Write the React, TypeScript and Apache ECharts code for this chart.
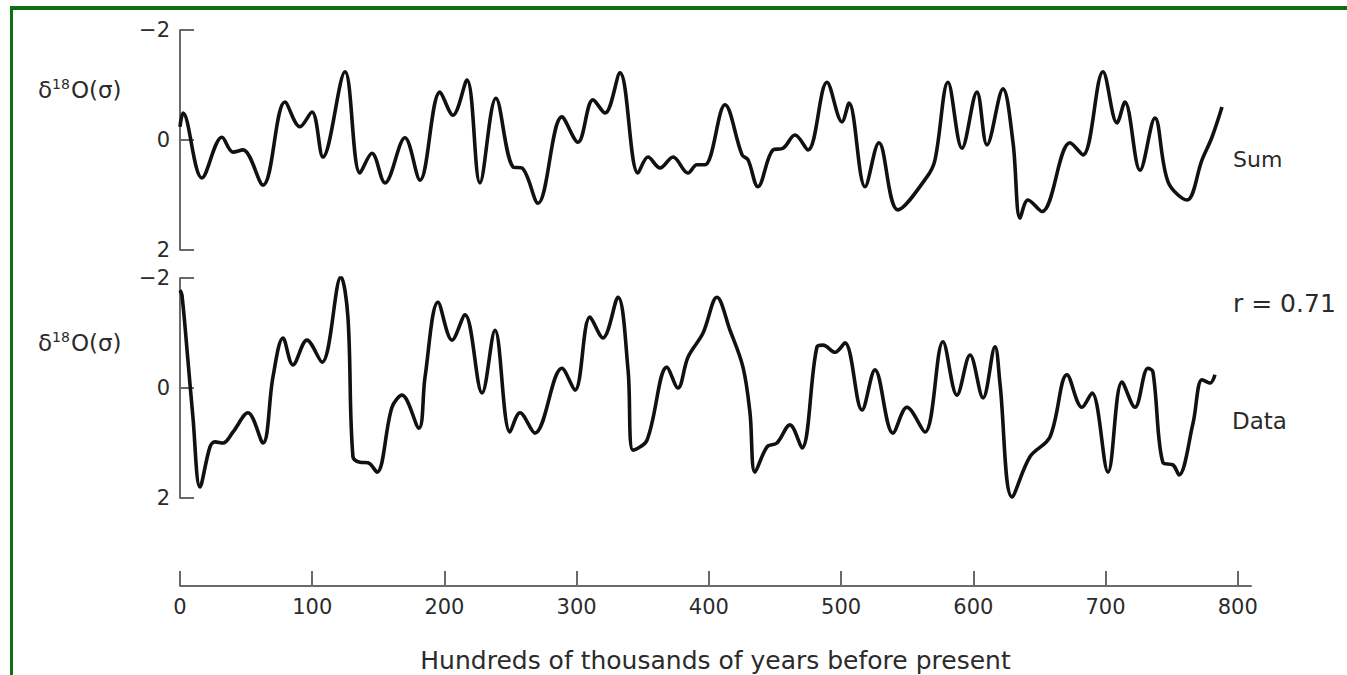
import React, { useEffect, useRef } from "react";
import * as echarts from "echarts";

// Age (thousands of years, as labelled on the axis) and standardized delta-18-O values
const sumAge = [0, 2.3, 16.6, 31.8, 40, 47.6, 62.8, 79.4, 90.7, 99.8, 108.1, 124.8, 136.1, 145.2, 155, 170.1, 181.5, 196.6, 206.4, 217, 226.8, 238.9, 251.8, 258.6, 270.7, 288.8, 300.9, 312.3, 321.4, 332.7, 346.3, 353.9, 363, 372.8, 384.1, 390.9, 397, 412.1, 425, 429.5, 437, 448.4, 456, 465, 474.9, 489.2, 500.6, 505.9, 518, 528.5, 542.9, 564.8, 570.9, 580.7, 591.3, 602.6, 610.2, 622.3, 629.9, 635.2, 641.2, 651.8, 673, 682.8, 697.9, 708.5, 714.5, 725.9, 737.2, 747.1, 761.4, 772.8, 780.3, 787.9];
const sumVal = [-0.24, -0.49, 0.69, -0.05, 0.22, 0.18, 0.82, -0.69, -0.24, -0.51, 0.31, -1.24, 0.6, 0.24, 0.78, -0.04, 0.73, -0.87, -0.45, -1.09, 0.78, -0.76, 0.49, 0.51, 1.15, -0.42, 0.04, -0.73, -0.49, -1.22, 0.6, 0.31, 0.51, 0.31, 0.6, 0.45, 0.45, -0.64, 0.27, 0.36, 0.85, 0.18, 0.15, -0.09, 0.18, -1.05, -0.33, -0.67, 0.85, 0.05, 1.27, 0.67, 0.36, -1.05, 0.15, -0.87, 0.09, -0.93, 0.05, 1.42, 1.09, 1.3, 0.05, 0.27, -1.24, -0.31, -0.69, 0.55, -0.4, 0.76, 1.09, 0.36, -0.05, -0.6];

const dataAge = [0, 1.5, 6, 9.8, 15.1, 22.7, 26.5, 32.5, 40.1, 51.4, 62.8, 70.3, 77.9, 85.4, 96, 107.4, 121.7, 127, 130.8, 136.1, 142.2, 149, 160.3, 167.9, 180.7, 185.3, 195.1, 205.7, 215.5, 228.4, 238.2, 249.5, 257.1, 268.4, 288.8, 298.7, 310, 319.8, 331.2, 338.8, 342.5, 353.1, 368.2, 376.6, 384.1, 395.5, 406, 415.9, 425.7, 431, 434.8, 443.9, 451.4, 461.2, 470.3, 481.7, 486.2, 495.3, 502.8, 515.7, 525.5, 539.1, 549.7, 563.3, 576.9, 587.5, 597.4, 607.2, 616.3, 620, 629.1, 642.7, 657.8, 670.7, 682, 689.6, 701.7, 712.3, 722.1, 731.9, 735.7, 743.3, 750.9, 755.4, 766, 772.8, 778.9, 782.6];
const dataVal = [-1.78, -1.69, -0.51, 0.53, 1.8, 1.07, 0.98, 1.0, 0.8, 0.45, 1.0, -0.2, -0.91, -0.42, -0.87, -0.47, -2.02, -1.29, 1.25, 1.35, 1.36, 1.53, 0.35, 0.13, 0.73, -0.2, -1.56, -0.87, -1.33, 0.09, -1.05, 0.8, 0.45, 0.82, -0.36, 0.04, -1.29, -0.91, -1.65, -0.33, 1.13, 0.95, -0.38, 0.0, -0.56, -1.0, -1.65, -1.05, -0.38, 0.45, 1.53, 1.07, 1.0, 0.67, 1.09, -0.75, -0.78, -0.65, -0.82, 0.4, -0.33, 0.82, 0.35, 0.8, -0.84, 0.13, -0.6, 0.18, -0.75, -0.09, 1.98, 1.25, 0.89, -0.24, 0.35, 0.09, 1.53, -0.11, 0.35, -0.36, -0.29, 1.36, 1.4, 1.58, 0.64, -0.15, -0.09, -0.24];

const xTickValues = [0, 100, 200, 300, 400, 500, 600, 700, 800];
const yTickValues = [-2, 0, 2];
const xTitle = "Hundreds of thousands of years before present";
const sumLabel = "Sum";
const dataLabel = "Data";
const corrLabel = "r = 0.71";

export default function App() {
  const ref = useRef<HTMLDivElement>(null);
  useEffect(() => {
    const chart = echarts.init(ref.current as HTMLDivElement, null, { renderer: "svg" });
    const font = "DejaVu Sans";
    const textColor = "#2b2b2b";
    const axisColor = "#6a6a6a";
    const green = "#0e700e";

    const yAxis = (gridIndex: number) => ({
      type: "value",
      gridIndex,
      inverse: true,
      min: yTickValues[0],
      max: yTickValues[yTickValues.length - 1],
      interval: 2,
      axisLine: { show: true, lineStyle: { color: axisColor, width: 2 } },
      axisTick: { show: true, inside: true, length: 14, lineStyle: { color: axisColor, width: 2 } },
      axisLabel: {
        color: textColor,
        fontSize: 21,
        fontFamily: font,
        margin: 6,
        formatter: (v: number) => (v < 0 ? "\u2212" + Math.abs(v) : String(v)),
      },
      splitLine: { show: false },
    });

    const hiddenX = (gridIndex: number) => ({
      type: "value",
      gridIndex,
      min: -3,
      max: 800,
      show: false,
      splitLine: { show: false },
    });

    const lineStyle = { color: "#111", width: 3.6 };
    const deltaLabel = (y: number) => ({
      type: "text",
      x: 38,
      y,
      style: {
        text: "{d|\u03b4}{s|18}{d|O(\u03c3)}",
        verticalAlign: "middle",
        rich: {
          d: { fontSize: 23, fontFamily: font, fill: textColor },
          s: { fontSize: 14, fontFamily: font, fill: textColor, verticalAlign: "top", padding: [0, 1, 12, 0] },
        },
      },
    });

    chart.setOption({
      animation: false,
      backgroundColor: "#ffffff",
      grid: [
        { left: 176, top: 30, width: 1062, height: 220 },
        { left: 176, top: 278, width: 1062, height: 220 },
        { left: 180, top: 585, width: 1071, height: 1 },
      ],
      xAxis: [
        hiddenX(0),
        hiddenX(1),
        {
          type: "value",
          gridIndex: 2,
          min: 0,
          max: 810,
          position: "bottom",
          axisLine: { show: true, lineStyle: { color: axisColor, width: 2 } },
          axisTick: { show: true, inside: true, length: 15, customValues: xTickValues, lineStyle: { color: axisColor, width: 2 } },
          axisLabel: { color: textColor, fontSize: 21, fontFamily: font, margin: 10, customValues: xTickValues },
          splitLine: { show: false },
          name: xTitle,
          nameLocation: "middle",
          nameGap: 62,
          nameTextStyle: { color: textColor, fontSize: 25, fontFamily: font },
        },
      ],
      yAxis: [
        yAxis(0),
        yAxis(1),
        { type: "value", gridIndex: 2, show: false, min: 0, max: 1 },
      ],
      series: [
        {
          type: "line",
          name: sumLabel,
          xAxisIndex: 0,
          yAxisIndex: 0,
          data: sumAge.map((a, i) => [a, sumVal[i]]),
          smooth: 0.35,
          showSymbol: false,
          lineStyle,
        },
        {
          type: "line",
          name: dataLabel,
          xAxisIndex: 1,
          yAxisIndex: 1,
          data: dataAge.map((a, i) => [a, dataVal[i]]),
          smooth: 0.35,
          showSymbol: false,
          lineStyle,
        },
        { type: "line", xAxisIndex: 2, yAxisIndex: 2, data: [] },
      ],
      graphic: [
        { type: "rect", shape: { x: 10, y: 6, width: 1337, height: 4 }, style: { fill: green } },
        { type: "rect", shape: { x: 10, y: 6, width: 3, height: 669 }, style: { fill: green } },
        deltaLabel(90),
        deltaLabel(343),
        { type: "text", x: 1233, y: 159, style: { text: sumLabel, fontSize: 22, fontFamily: font, fill: textColor, verticalAlign: "middle" } },
        { type: "text", x: 1232, y: 421, style: { text: dataLabel, fontSize: 23, fontFamily: font, fill: textColor, verticalAlign: "middle" } },
        { type: "text", x: 1233, y: 303, style: { text: corrLabel, fontSize: 25, fontFamily: font, fill: textColor, verticalAlign: "middle" } },
      ],
    });
    return () => chart.dispose();
  }, []);
  return <div ref={ref} style={{ position: "fixed", left: 0, top: 0, width: 1347, height: 675 }} />;
}
